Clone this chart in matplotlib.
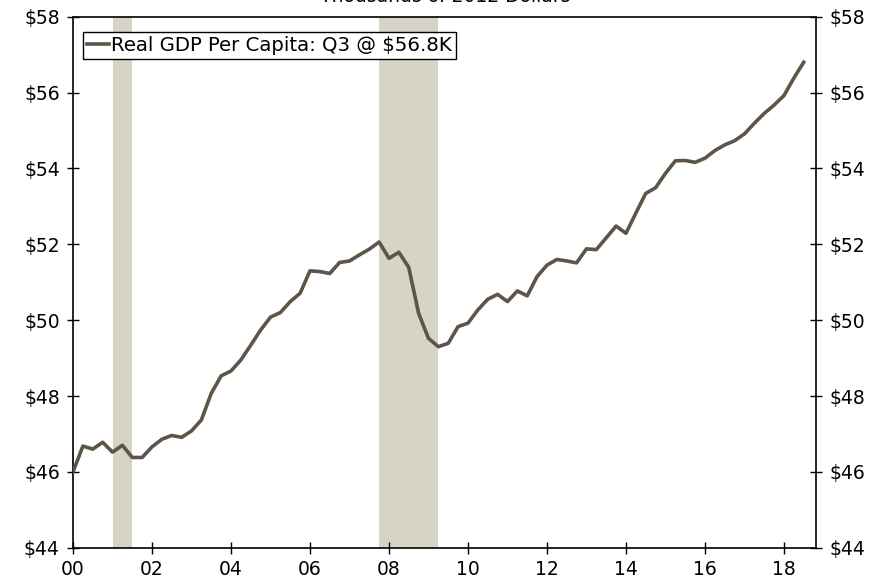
import numpy as np
import matplotlib
matplotlib.use("Agg")
import matplotlib.pyplot as plt
from matplotlib.ticker import FuncFormatter

# Real GDP per capita, thousands of 2012 dollars, quarterly 2000Q1 - 2018Q3
gdp = [46.00, 46.68, 46.60, 46.78, 46.52, 46.70, 46.38, 46.38,
       46.66, 46.86, 46.96, 46.91, 47.08, 47.37, 48.07, 48.53,
       48.66, 48.95, 49.34, 49.74, 50.08, 50.20, 50.49, 50.71,
       51.30, 51.28, 51.23, 51.52, 51.56, 51.72, 51.87, 52.06,
       51.63, 51.79, 51.39, 50.18, 49.52, 49.30, 49.39, 49.83,
       49.92, 50.27, 50.55, 50.68, 50.49, 50.77, 50.64, 51.15,
       51.45, 51.60, 51.56, 51.51, 51.88, 51.86, 52.17, 52.48,
       52.29, 52.82, 53.34, 53.49, 53.87, 54.20, 54.21, 54.16,
       54.27, 54.47, 54.62, 54.73, 54.91, 55.19, 55.45, 55.67,
       55.92, 56.38, 56.80]
quarters = np.arange(len(gdp)) * 0.25  # years since 2000

# recessions (years since 2000)
recessions = [(1.0, 1.5), (7.75, 9.25)]

xticks = np.arange(0, 19, 2)
xticklabels = ["%02d" % t for t in xticks]
yticks = np.arange(44, 59, 2)

line_col = "#5e5448"
band_col = "#d6d3c7"
fs = 13.5

fig = plt.figure(figsize=(8.82, 5.82), dpi=100)
ax = fig.add_axes([0.0828, 0.0589, 0.8423, 0.9124])

for a, b in recessions:
    ax.axvspan(a, b, color=band_col, lw=0, zorder=0)

ax.plot(quarters, gdp, color=line_col, lw=2.6, zorder=3,
        label="Real GDP Per Capita: Q3 @ $56.8K")

ax.set_xlim(0, 18.81)
ax.set_ylim(44, 58)
ax.set_xticks(xticks)
ax.set_xticklabels(xticklabels)
ax.set_yticks(yticks)
ax.yaxis.set_major_formatter(FuncFormatter(lambda v, p: "$%d" % v))
ax.tick_params(axis="both", direction="inout", length=9, width=1,
               labelsize=fs, colors="black")
ax.tick_params(axis="y", right=True, labelright=True, pad=5)
ax.tick_params(axis="x", pad=4)

for s in ax.spines.values():
    s.set_linewidth(1.2)

leg = ax.legend(loc="upper left", bbox_to_anchor=(0.006, 0.983),
                fontsize=14.2, frameon=True, fancybox=False,
                handlelength=1.1, handletextpad=0.1, borderpad=0.2,
                borderaxespad=0.3)
leg.get_frame().set_edgecolor("black")
leg.get_frame().set_linewidth(1.0)
leg.get_frame().set_alpha(1)

fig.text(0.505, 0.996, "Thousands of 2012 Dollars", ha="center",
         va="baseline", fontsize=fs)

fig.savefig("out.png", dpi=100)
